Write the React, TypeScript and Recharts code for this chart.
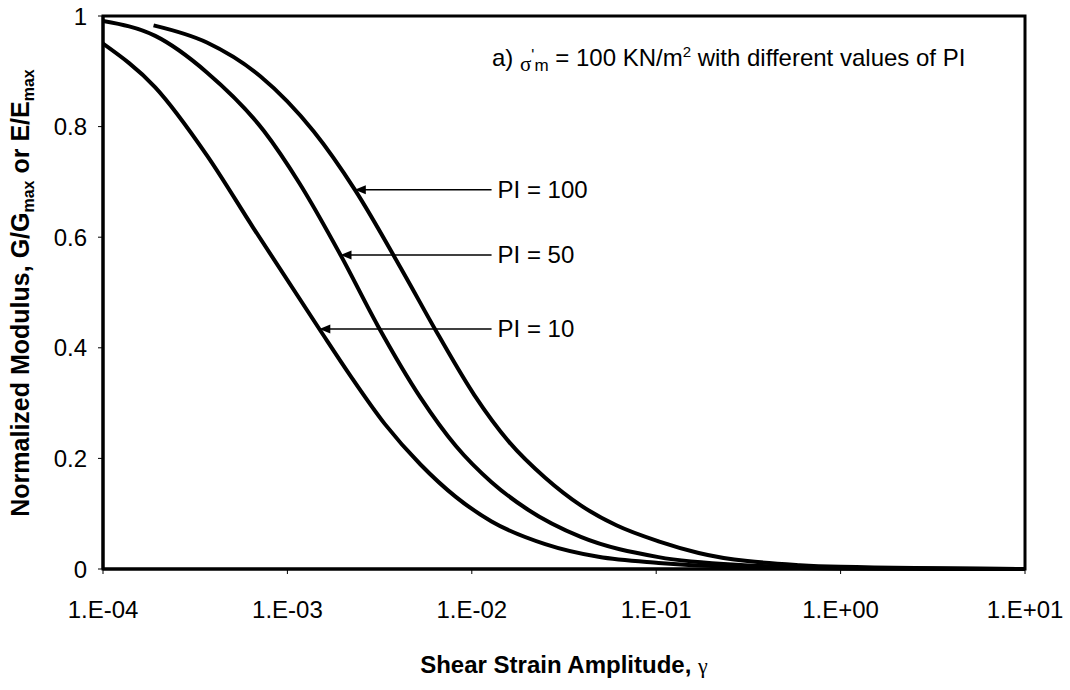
import React from 'react';
import {
  LineChart,
  Line,
  XAxis,
  YAxis,
  ReferenceArea,
  ReferenceLine,
} from 'recharts';

// strain (x) and G/Gmax (y)
const pi10 = [
  { x: 0.0001, y: 0.95 },
  { x: 0.000192, y: 0.871 },
  { x: 0.000366, y: 0.748 },
  { x: 0.000653, y: 0.617 },
  { x: 0.00149, y: 0.434 },
  { x: 0.00217, y: 0.352 },
  { x: 0.00338, y: 0.262 },
  { x: 0.00527, y: 0.189 },
  { x: 0.00822, y: 0.13 },
  { x: 0.0128, y: 0.086 },
  { x: 0.025, y: 0.045 },
  { x: 0.0486, y: 0.022 },
  { x: 0.103, y: 0.011 },
  { x: 0.25, y: 0.004 },
  { x: 1, y: 0.001 },
  { x: 10, y: 0 },
];

const pi50 = [
  { x: 0.0001, y: 0.991 },
  { x: 0.000192, y: 0.964 },
  { x: 0.000366, y: 0.898 },
  { x: 0.000746, y: 0.792 },
  { x: 0.00116, y: 0.698 },
  { x: 0.00194, y: 0.568 },
  { x: 0.00309, y: 0.44 },
  { x: 0.00527, y: 0.31 },
  { x: 0.00822, y: 0.222 },
  { x: 0.0128, y: 0.157 },
  { x: 0.02, y: 0.108 },
  { x: 0.039, y: 0.058 },
  { x: 0.103, y: 0.0215 },
  { x: 0.3, y: 0.007 },
  { x: 1, y: 0.002 },
  { x: 10, y: 0 },
];

const pi100 = [
  { x: 0.000188, y: 0.983 },
  { x: 0.000366, y: 0.952 },
  { x: 0.000713, y: 0.891 },
  { x: 0.00139, y: 0.791 },
  { x: 0.00232, y: 0.686 },
  { x: 0.00422, y: 0.538 },
  { x: 0.00659, y: 0.423 },
  { x: 0.0103, y: 0.315 },
  { x: 0.016, y: 0.229 },
  { x: 0.025, y: 0.165 },
  { x: 0.039, y: 0.115 },
  { x: 0.0608, y: 0.079 },
  { x: 0.103, y: 0.05 },
  { x: 0.17, y: 0.029 },
  { x: 0.6, y: 0.007 },
  { x: 1, y: 0.004 },
  { x: 10, y: 0 },
];

const xTicks = [0.0001, 0.001, 0.01, 0.1, 1, 10];
const yTicks = [0, 0.2, 0.4, 0.6, 0.8, 1];

// arrow annotations: label, y level, arrow tip x, tail x
const arrowLabels = ['PI = 100', 'PI = 50', 'PI = 10'];
const arrowY = [0.686, 0.568, 0.434];
const arrowTipX = [0.00232, 0.00194, 0.00149];
const arrowTailX = [0.0128, 0.0128, 0.0128];

const FONT = '"Liberation Sans", Arial, sans-serif';
const SERIF = '"Liberation Serif", "DejaVu Serif", serif';

const fmtExp = (v: number) => {
  const e = Math.round(Math.log10(v));
  const s = String(Math.abs(e)).padStart(2, '0');
  return `1.E${e < 0 ? '-' : '+'}${s}`;
};

const ArrowShape = (label: string) => (props: any) => {
  const { x1, y1, x2 } = props;
  const tipX = Math.min(x1, x2);
  const tailX = Math.max(x1, x2);
  const y = y1;
  return (
    <g>
      <line x1={tailX} y1={y} x2={tipX + 8} y2={y} stroke="#000" strokeWidth={1.5} />
      <polygon
        points={`${tipX},${y} ${tipX + 11},${y - 4.5} ${tipX + 11},${y + 4.5}`}
        fill="#000"
      />
      <text x={tailX + 6} y={y + 8.5} fontFamily={FONT} fontSize={24} fill="#000">
        {label}
      </text>
    </g>
  );
};

export default function App() {
  return (
    <div style={{ position: 'absolute', left: 0, top: 0, width: 1070, height: 690, background: '#fff' }}>
      <LineChart
        width={1070}
        height={690}
        margin={{ top: 16, right: 45, bottom: 0, left: 0 }}
      >
        <XAxis
          type="number"
          dataKey="x"
          scale="log"
          domain={[0.0001, 10]}
          ticks={xTicks}
          allowDataOverflow
          tickFormatter={fmtExp}
          height={121}
          axisLine={{ stroke: '#000', strokeWidth: 3 }}
          tickLine={{ stroke: '#000', strokeWidth: 1 }}
          tickSize={5}
          tickMargin={27}
          tick={{ fill: '#000', fontSize: 24, fontFamily: FONT }}
        />
        <YAxis
          type="number"
          domain={[0, 1]}
          ticks={yTicks}
          width={103}
          axisLine={{ stroke: '#000', strokeWidth: 3 }}
          tickLine={{ stroke: '#000', strokeWidth: 1 }}
          tickSize={5}
          tickMargin={11}
          tick={{ fill: '#000', fontSize: 24, fontFamily: FONT }}
        />
        <ReferenceArea
          x1={0.0001}
          x2={10}
          y1={0}
          y2={1}
          fill="none"
          stroke="#000"
          strokeWidth={3}
          ifOverflow="visible"
        />
        {arrowLabels.map((lab, i) => (
          <ReferenceLine
            key={lab}
            segment={[
              { x: arrowTipX[i], y: arrowY[i] },
              { x: arrowTailX[i], y: arrowY[i] },
            ]}
            shape={ArrowShape(lab)}
          />
        ))}
        <Line data={pi10} dataKey="y" type="monotone" stroke="#000" strokeWidth={4} dot={false} isAnimationActive={false} />
        <Line data={pi50} dataKey="y" type="monotone" stroke="#000" strokeWidth={4} dot={false} isAnimationActive={false} />
        <Line data={pi100} dataKey="y" type="monotone" stroke="#000" strokeWidth={4} dot={false} isAnimationActive={false} />
      </LineChart>
      <svg
        width={1070}
        height={690}
        style={{ position: 'absolute', left: 0, top: 0, pointerEvents: 'none' }}
      >
        <text x={492} y={66} fontFamily={FONT} fontSize={24} fill="#000">
          a){' '}
          <tspan fontFamily={SERIF} fontSize={21} dy={5}>σ</tspan>
          <tspan fontSize={16} dy={-10}>'</tspan>
          <tspan fontSize={17} dy={10}>m</tspan>
          <tspan dy={-5}> = 100 KN/m</tspan>
          <tspan fontSize={15} dy={-9}>2</tspan>
          <tspan dy={9}> with different values of PI</tspan>
        </text>
        <text
          x={564}
          y={673}
          textAnchor="middle"
          fontFamily={FONT}
          fontSize={24}
          fontWeight="bold"
          fill="#000"
        >
          Shear Strain Amplitude,{' '}
          <tspan fontWeight="normal" fontFamily={SERIF} fontSize={22}>γ</tspan>
        </text>
        <text
          transform="translate(29, 293) rotate(-90)"
          textAnchor="middle"
          fontFamily={FONT}
          fontSize={25}
          fontWeight="bold"
          fill="#000"
        >
          Normalized Modulus, G/G
          <tspan fontSize={16} dy={5}>max</tspan>
          <tspan dy={-5}> or E/E</tspan>
          <tspan fontSize={16} dy={5}>max</tspan>
        </text>
      </svg>
    </div>
  );
}
